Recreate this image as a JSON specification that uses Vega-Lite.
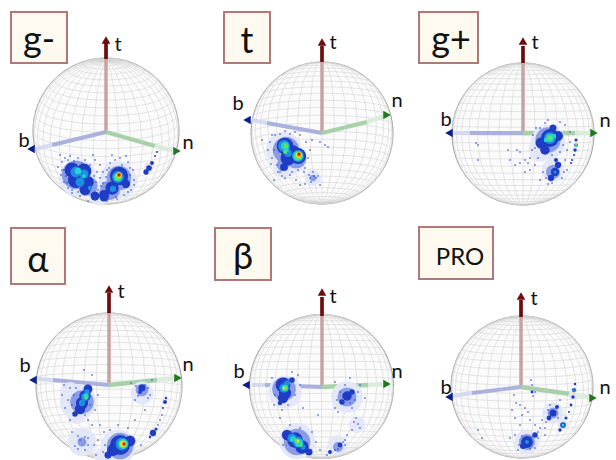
{
"$schema":"https://vega.github.io/schema/vega-lite/v6.json",
"width":616,"height":460,"padding":0,"autosize":{"type":"none"},"background":"white",
"config":{"view":{"stroke":null}},
"datasets":{
"boxes":[{"p":"g-","x":11,"x2":67,"y":12,"y2":63,"tx":39,"ty":41},{"p":"t","x":224,"x2":270,"y":12,"y2":63,"tx":247,"ty":42},{"p":"g+","x":419,"x2":478,"y":12,"y2":63,"tx":451,"ty":41},{"p":"α","x":11,"x2":65,"y":228,"y2":284,"tx":38,"ty":261},{"p":"β","x":215,"x2":271,"y":228,"y2":280,"tx":243,"ty":258},{"p":"PRO","x":419,"x2":493,"y":227,"y2":279,"tx":460,"ty":258}],
"labels":[{"t":"t","x":118,"y":45},{"t":"b","x":24,"y":141},{"t":"n","x":188,"y":143},{"t":"t","x":333,"y":43},{"t":"b","x":238,"y":104},{"t":"n","x":397,"y":101},{"t":"t","x":535,"y":43},{"t":"b","x":446,"y":120},{"t":"n","x":605,"y":121},{"t":"t","x":121,"y":292},{"t":"b","x":25,"y":366},{"t":"n","x":188,"y":365},{"t":"t","x":333,"y":297},{"t":"b","x":239,"y":372},{"t":"n","x":397,"y":372},{"t":"t","x":534,"y":299},{"t":"b","x":446,"y":388},{"t":"n","x":605,"y":388}],
"segs":[
{"k":"t_in","x":106,"y":132,"x2":106,"y2":59},{"k":"t_out","x":106,"y":59,"x2":106,"y2":43},{"k":"b_in","x":106,"y":132,"x2":52,"y2":145},{"k":"b_out","x":52,"y":145,"x2":36,"y2":149},{"k":"n_in","x":106,"y":132,"x2":155,"y2":146},{"k":"n_out","x":155,"y":146,"x2":175,"y2":151},
{"k":"t_in","x":322,"y":133,"x2":322,"y2":62},{"k":"t_out","x":322,"y":62,"x2":322,"y2":46},{"k":"b_in","x":322,"y":133,"x2":267,"y2":123},{"k":"b_out","x":267,"y":123,"x2":252,"y2":120},{"k":"n_in","x":322,"y":133,"x2":367,"y2":122},{"k":"n_out","x":367,"y":122,"x2":385,"y2":116},
{"k":"t_in","x":523,"y":133,"x2":523,"y2":63},{"k":"t_out","x":523,"y":63,"x2":523,"y2":46},{"k":"b_in","x":523,"y":133,"x2":470,"y2":133},{"k":"b_out","x":470,"y":133,"x2":452,"y2":133},{"k":"n_in","x":523,"y":133,"x2":575,"y2":133},{"k":"n_out","x":575,"y":133,"x2":592,"y2":133},
{"k":"t_in","x":109,"y":385,"x2":109,"y2":313},{"k":"t_out","x":109,"y":313,"x2":109,"y2":293},{"k":"b_in","x":109,"y":385,"x2":53,"y2":380},{"k":"b_out","x":53,"y":380,"x2":38,"y2":379},{"k":"n_in","x":109,"y":385,"x2":157,"y2":380},{"k":"n_out","x":157,"y":380,"x2":176,"y2":378},
{"k":"t_in","x":322,"y":387,"x2":322,"y2":316},{"k":"t_out","x":322,"y":316,"x2":322,"y2":297},{"k":"b_in","x":322,"y":387,"x2":265,"y2":385},{"k":"b_out","x":265,"y":385,"x2":252,"y2":385},{"k":"n_in","x":322,"y":387,"x2":368,"y2":385},{"k":"n_out","x":368,"y":385,"x2":385,"y2":384},
{"k":"t_in","x":521,"y":387,"x2":521,"y2":317},{"k":"t_out","x":521,"y":317,"x2":521,"y2":300},{"k":"b_in","x":521,"y":387,"x2":472,"y2":393},{"k":"b_out","x":472,"y":393,"x2":452,"y2":396},{"k":"n_in","x":521,"y":387,"x2":570,"y2":394},{"k":"n_out","x":570,"y":394,"x2":590,"y2":397}],
"tips":[{"a":"t","x":106,"y":40},{"a":"b","x":31,"y":149},{"a":"n","x":177,"y":151},{"a":"t","x":322,"y":42},{"a":"b","x":247,"y":120},{"a":"n","x":387,"y":115},{"a":"t","x":523,"y":41},{"a":"b","x":449,"y":133},{"a":"n","x":594,"y":133},{"a":"t","x":109,"y":289},{"a":"b","x":33,"y":380},{"a":"n","x":178,"y":378},{"a":"t","x":322,"y":292},{"a":"b","x":246,"y":385},{"a":"n","x":387,"y":384},{"a":"t","x":521,"y":296},{"a":"b","x":449,"y":397},{"a":"n","x":593,"y":398}],
"dens":[
{"x":78,"y":178,"d":-0.2,"w":700},{"x":118,"y":180,"d":-0.2,"w":700},{"x":100,"y":193,"d":-0.2,"w":300},{"x":149,"y":167,"d":-0.2,"w":50},
{"x":76,"y":175,"d":-0.1,"w":400},{"x":88,"y":186,"d":-0.1,"w":180},{"x":119,"y":178,"d":-0.1,"w":300},{"x":110,"y":190,"d":-0.1,"w":200},
{"x":72,"y":170,"d":0,"w":110},{"x":84,"y":171,"d":0,"w":110},{"x":76,"y":180,"d":0,"w":130},{"x":88,"y":182,"d":0,"w":70},{"x":85,"y":190,"d":0,"w":60},{"x":95,"y":196,"d":0,"w":40},{"x":104,"y":197,"d":0,"w":40},
{"x":76,"y":172,"d":0.25,"w":60},{"x":84,"y":174,"d":0.25,"w":40},{"x":80,"y":182,"d":0.25,"w":40},{"x":90,"y":188,"d":0.25,"w":10},{"x":78,"y":171,"d":0.4,"w":20},{"x":84,"y":176,"d":0.4,"w":7},
{"x":119,"y":176,"d":0,"w":170},{"x":112,"y":188,"d":0,"w":90},{"x":104,"y":195,"d":0,"w":50},{"x":126,"y":184,"d":0,"w":35},{"x":118,"y":177,"d":0.25,"w":70},{"x":113,"y":189,"d":0.25,"w":20},{"x":118,"y":177,"d":0.4,"w":38},{"x":118,"y":177,"d":0.55,"w":24},{"x":119,"y":175,"d":0.7,"w":14},{"x":119,"y":175,"d":0.85,"w":8},{"x":119,"y":175,"d":1,"w":4},
{"x":146,"y":172,"d":0,"w":14},{"x":149,"y":168,"d":0,"w":16},{"x":152,"y":163,"d":0,"w":8},{"x":155,"y":156,"d":0,"w":2},{"x":157,"y":152,"d":0,"w":2},
{"x":284,"y":150,"d":-0.2,"w":650},{"x":292,"y":160,"d":-0.2,"w":400},{"x":283,"y":168,"d":-0.2,"w":200},{"x":313,"y":178,"d":-0.2,"w":130},
{"x":286,"y":150,"d":-0.1,"w":350},{"x":296,"y":158,"d":-0.1,"w":220},{"x":283,"y":165,"d":-0.1,"w":80},{"x":313,"y":178,"d":-0.1,"w":20},
{"x":285,"y":146,"d":0,"w":140},{"x":298,"y":156,"d":0,"w":130},{"x":288,"y":158,"d":0,"w":110},{"x":284,"y":167,"d":0,"w":30},{"x":293,"y":152,"d":0,"w":90},
{"x":284,"y":146,"d":0.25,"w":70},{"x":298,"y":156,"d":0.25,"w":70},{"x":288,"y":153,"d":0.25,"w":30},{"x":285,"y":146,"d":0.4,"w":32},{"x":298,"y":156,"d":0.4,"w":48},{"x":286,"y":150,"d":0.4,"w":14},{"x":286,"y":146,"d":0.55,"w":10},{"x":298,"y":156,"d":0.55,"w":30},{"x":285,"y":152,"d":0.55,"w":7},{"x":299,"y":155,"d":0.7,"w":17},{"x":299,"y":155,"d":0.85,"w":8},{"x":299,"y":154,"d":1,"w":4},
{"x":548,"y":142,"d":-0.2,"w":600},{"x":553,"y":170,"d":-0.2,"w":260},{"x":540,"y":150,"d":-0.2,"w":260},
{"x":548,"y":140,"d":-0.1,"w":320},{"x":553,"y":172,"d":-0.1,"w":100},
{"x":550,"y":138,"d":0,"w":160},{"x":541,"y":143,"d":0,"w":60},{"x":545,"y":150,"d":0,"w":45},{"x":558,"y":136,"d":0,"w":50},{"x":553,"y":128,"d":0,"w":25},{"x":555,"y":172,"d":0,"w":35},{"x":551,"y":178,"d":0,"w":20},{"x":558,"y":165,"d":0,"w":20},{"x":556,"y":160,"d":0,"w":8},
{"x":550,"y":138,"d":0.25,"w":70},{"x":555,"y":172,"d":0.25,"w":5},{"x":550,"y":138,"d":0.4,"w":32},{"x":546,"y":140,"d":0.4,"w":10},{"x":554,"y":136,"d":0.4,"w":10},{"x":550,"y":138,"d":0.55,"w":12},
{"x":576,"y":140,"d":0,"w":5},{"x":576,"y":145,"d":0,"w":7},{"x":575,"y":150,"d":0,"w":6},{"x":574,"y":155,"d":0,"w":2},{"x":572,"y":160,"d":0,"w":2},{"x":571,"y":163,"d":0,"w":2},{"x":576,"y":146,"d":0.4,"w":3},{"x":576,"y":144,"d":0.7,"w":2},
{"x":78,"y":402,"d":-0.2,"w":650},{"x":70,"y":392,"d":-0.2,"w":200},{"x":77,"y":415,"d":-0.2,"w":160},{"x":118,"y":447,"d":-0.2,"w":600},{"x":100,"y":456,"d":-0.2,"w":70},{"x":142,"y":393,"d":-0.2,"w":260},{"x":82,"y":442,"d":-0.2,"w":400},
{"x":82,"y":402,"d":-0.1,"w":280},{"x":120,"y":446,"d":-0.1,"w":350},{"x":142,"y":390,"d":-0.1,"w":80},{"x":82,"y":442,"d":-0.1,"w":40},
{"x":88,"y":389,"d":0,"w":40},{"x":85,"y":396,"d":0,"w":65},{"x":82,"y":403,"d":0,"w":75},{"x":80,"y":409,"d":0,"w":55},{"x":75,"y":414,"d":0,"w":15},{"x":87,"y":392,"d":0.25,"w":14},{"x":85,"y":397,"d":0.25,"w":30},{"x":82,"y":403,"d":0.25,"w":20},{"x":86,"y":396,"d":0.4,"w":14},{"x":86,"y":398,"d":0.55,"w":5},
{"x":120,"y":445,"d":0,"w":200},{"x":130,"y":441,"d":0,"w":60},{"x":113,"y":450,"d":0,"w":70},{"x":108,"y":455,"d":0,"w":25},{"x":122,"y":444,"d":0.25,"w":85},{"x":123,"y":444,"d":0.4,"w":50},{"x":123,"y":444,"d":0.55,"w":30},{"x":123,"y":444,"d":0.7,"w":17},{"x":124,"y":444,"d":0.85,"w":8},{"x":124,"y":444,"d":1,"w":3},
{"x":142,"y":388,"d":0,"w":25},{"x":140,"y":392,"d":0,"w":8},{"x":165,"y":402,"d":0,"w":8},{"x":166,"y":398,"d":0,"w":3},{"x":163,"y":408,"d":0,"w":2},{"x":153,"y":433,"d":0,"w":20},{"x":156,"y":429,"d":0,"w":5},{"x":150,"y":437,"d":0,"w":3},
{"x":285,"y":392,"d":-0.2,"w":550},{"x":297,"y":441,"d":-0.2,"w":650},{"x":347,"y":397,"d":-0.2,"w":500},{"x":357,"y":425,"d":-0.2,"w":130},{"x":338,"y":445,"d":-0.2,"w":200},
{"x":284,"y":389,"d":-0.1,"w":280},{"x":297,"y":442,"d":-0.1,"w":350},{"x":347,"y":397,"d":-0.1,"w":180},{"x":338,"y":447,"d":-0.1,"w":50},
{"x":283,"y":385,"d":0,"w":110},{"x":285,"y":393,"d":0,"w":75},{"x":283,"y":398,"d":0,"w":55},{"x":292,"y":380,"d":0,"w":15},{"x":280,"y":403,"d":0,"w":10},{"x":284,"y":388,"d":0.25,"w":45},{"x":287,"y":383,"d":0.25,"w":16},{"x":285,"y":388,"d":0.4,"w":22},{"x":285,"y":388,"d":0.55,"w":10},{"x":284,"y":388,"d":0.7,"w":3},
{"x":287,"y":435,"d":0,"w":55},{"x":295,"y":440,"d":0,"w":120},{"x":302,"y":447,"d":0,"w":90},{"x":309,"y":452,"d":0,"w":25},{"x":292,"y":438,"d":0.25,"w":40},{"x":298,"y":442,"d":0.25,"w":60},{"x":303,"y":447,"d":0.25,"w":14},{"x":293,"y":439,"d":0.4,"w":16},{"x":299,"y":443,"d":0.4,"w":30},{"x":297,"y":441,"d":0.55,"w":13},{"x":301,"y":445,"d":0.55,"w":5},{"x":298,"y":441,"d":0.7,"w":3},
{"x":347,"y":396,"d":0,"w":45},{"x":342,"y":402,"d":0,"w":15},{"x":352,"y":392,"d":0,"w":15},{"x":340,"y":445,"d":0,"w":12},{"x":330,"y":452,"d":0,"w":8},
{"x":553,"y":413,"d":-0.2,"w":230},{"x":527,"y":442,"d":-0.2,"w":300},{"x":563,"y":425,"d":-0.2,"w":60},{"x":573,"y":395,"d":-0.2,"w":40},
{"x":553,"y":413,"d":-0.1,"w":60},{"x":527,"y":442,"d":-0.1,"w":130},
{"x":575,"y":384,"d":0,"w":3},{"x":574,"y":390,"d":0,"w":9},{"x":573,"y":397,"d":0,"w":6},{"x":571,"y":405,"d":0,"w":4},{"x":569,"y":412,"d":0,"w":2},{"x":574,"y":390,"d":0.25,"w":4},{"x":574,"y":393,"d":0.7,"w":2},
{"x":566,"y":418,"d":0,"w":5},{"x":563,"y":425,"d":0,"w":16},{"x":560,"y":430,"d":0,"w":6},{"x":563,"y":425,"d":0.4,"w":5},
{"x":557,"y":407,"d":0,"w":8},{"x":553,"y":413,"d":0,"w":25},{"x":549,"y":418,"d":0,"w":12},
{"x":527,"y":442,"d":0,"w":70},{"x":535,"y":435,"d":0,"w":15},{"x":523,"y":446,"d":0,"w":18},{"x":527,"y":442,"d":0.25,"w":8},{"x":532,"y":392,"d":0,"w":4}],
"dots":[
{"x":60,"y":155},{"x":62,"y":162},{"x":65,"y":158},{"x":58,"y":167},{"x":70,"y":156},{"x":78,"y":158},{"x":85,"y":160},{"x":90,"y":165},{"x":95,"y":160},{"x":100,"y":165},{"x":97,"y":172},{"x":100,"y":178},{"x":103,"y":172},{"x":96,"y":182},{"x":101,"y":186},{"x":64,"y":182},{"x":68,"y":188},{"x":72,"y":193},{"x":80,"y":196},{"x":88,"y":201},{"x":95,"y":200},{"x":107,"y":201},{"x":117,"y":199},{"x":124,"y":195},{"x":131,"y":190},{"x":134,"y":180},{"x":133,"y":170},{"x":128,"y":162},{"x":120,"y":158},{"x":110,"y":163},{"x":112,"y":155},{"x":126,"y":156},{"x":107,"y":170},{"x":93,"y":155},{"x":134,"y":185},{"x":61,"y":175},{"x":66,"y":176},{"x":116,"y":197},{"x":108,"y":199},{"x":92,"y":198},{"x":75,"y":187},{"x":68,"y":160},{"x":74,"y":161},{"x":82,"y":163},{"x":64,"y":170},{"x":62,"y":170},{"x":67,"y":183},{"x":72,"y":190},{"x":78,"y":192},{"x":94,"y":176},{"x":98,"y":190},{"x":103,"y":183},{"x":106,"y":177},{"x":109,"y":168},{"x":130,"y":175},{"x":130,"y":168},{"x":128,"y":192},{"x":122,"y":165},{"x":115,"y":160},{"x":100,"y":192},
{"x":275,"y":135},{"x":270,"y":142},{"x":268,"y":150},{"x":272,"y":158},{"x":277,"y":165},{"x":280,"y":172},{"x":285,"y":178},{"x":290,"y":175},{"x":298,"y":170},{"x":305,"y":168},{"x":309,"y":175},{"x":313,"y":172},{"x":316,"y":178},{"x":311,"y":182},{"x":318,"y":176},{"x":305,"y":184},{"x":300,"y":185},{"x":310,"y":150},{"x":325,"y":145},{"x":328,"y":147},{"x":320,"y":142},{"x":300,"y":135},{"x":295,"y":132},{"x":285,"y":131},{"x":312,"y":140},{"x":278,"y":172},{"x":296,"y":180},{"x":262,"y":140},{"x":274,"y":180},{"x":320,"y":185},{"x":272,"y":135},{"x":280,"y":134},{"x":290,"y":134},{"x":306,"y":142},{"x":308,"y":158},{"x":304,"y":172},{"x":314,"y":176},{"x":310,"y":178},{"x":292,"y":172},{"x":282,"y":176},{"x":274,"y":150},{"x":271,"y":164},
{"x":532,"y":150},{"x":530,"y":158},{"x":535,"y":165},{"x":528,"y":163},{"x":520,"y":163},{"x":515,"y":165},{"x":525,"y":172},{"x":530,"y":170},{"x":510,"y":160},{"x":478,"y":145},{"x":476,"y":143},{"x":478,"y":160},{"x":508,"y":150},{"x":565,"y":125},{"x":560,"y":122},{"x":548,"y":120},{"x":545,"y":123},{"x":570,"y":132},{"x":567,"y":150},{"x":567,"y":170},{"x":562,"y":178},{"x":548,"y":184},{"x":540,"y":180},{"x":543,"y":172},{"x":565,"y":160},{"x":536,"y":128},{"x":533,"y":135},{"x":570,"y":142},{"x":520,"y":152},{"x":517,"y":150},{"x":540,"y":128},{"x":563,"y":145},{"x":560,"y":152},{"x":552,"y":155},{"x":538,"y":158},{"x":535,"y":148},{"x":552,"y":183},{"x":546,"y":178},{"x":564,"y":172},{"x":525,"y":160},
{"x":84,"y":370},{"x":64,"y":385},{"x":62,"y":395},{"x":65,"y":408},{"x":70,"y":420},{"x":88,"y":420},{"x":95,"y":410},{"x":98,"y":395},{"x":92,"y":425},{"x":100,"y":425},{"x":72,"y":432},{"x":78,"y":436},{"x":88,"y":438},{"x":94,"y":445},{"x":75,"y":446},{"x":85,"y":450},{"x":98,"y":440},{"x":104,"y":432},{"x":110,"y":430},{"x":118,"y":425},{"x":128,"y":428},{"x":135,"y":420},{"x":145,"y":410},{"x":131,"y":383},{"x":152,"y":380},{"x":148,"y":398},{"x":135,"y":400},{"x":162,"y":415},{"x":160,"y":420},{"x":158,"y":425},{"x":141,"y":445},{"x":105,"y":445},{"x":92,"y":375},{"x":96,"y":455},{"x":108,"y":458},{"x":68,"y":400},{"x":72,"y":405},{"x":74,"y":395},{"x":76,"y":388},{"x":70,"y":388},{"x":90,"y":405},{"x":85,"y":415},{"x":80,"y":440},{"x":85,"y":437},{"x":88,"y":445},{"x":78,"y":449},{"x":145,"y":385},{"x":148,"y":388},{"x":138,"y":396},{"x":136,"y":386},{"x":150,"y":395},{"x":103,"y":452},
{"x":274,"y":405},{"x":272,"y":378},{"x":298,"y":375},{"x":300,"y":385},{"x":295,"y":395},{"x":282,"y":410},{"x":280,"y":418},{"x":290,"y":425},{"x":300,"y":428},{"x":312,"y":432},{"x":316,"y":442},{"x":320,"y":450},{"x":283,"y":445},{"x":335,"y":382},{"x":350,"y":378},{"x":360,"y":385},{"x":365,"y":398},{"x":335,"y":408},{"x":338,"y":412},{"x":352,"y":408},{"x":356,"y":418},{"x":360,"y":428},{"x":352,"y":430},{"x":345,"y":440},{"x":347,"y":435},{"x":327,"y":455},{"x":335,"y":450},{"x":345,"y":445},{"x":318,"y":415},{"x":303,"y":408},{"x":340,"y":392},{"x":337,"y":400},{"x":355,"y":400},{"x":358,"y":392},{"x":345,"y":385},{"x":350,"y":403},{"x":275,"y":395},{"x":292,"y":372},{"x":288,"y":405},{"x":354,"y":422},{"x":358,"y":424},{"x":343,"y":442},{"x":338,"y":449},
{"x":531,"y":380},{"x":532,"y":385},{"x":533,"y":396},{"x":535,"y":392},{"x":514,"y":395},{"x":516,"y":403},{"x":520,"y":405},{"x":525,"y":408},{"x":512,"y":410},{"x":522,"y":415},{"x":528,"y":412},{"x":515,"y":418},{"x":530,"y":420},{"x":520,"y":425},{"x":535,"y":425},{"x":540,"y":428},{"x":542,"y":420},{"x":545,"y":428},{"x":538,"y":438},{"x":545,"y":435},{"x":515,"y":435},{"x":518,"y":450},{"x":535,"y":448},{"x":478,"y":430},{"x":482,"y":438},{"x":510,"y":438},{"x":560,"y":400},{"x":548,"y":410},{"x":522,"y":436},{"x":532,"y":437},{"x":538,"y":432},{"x":519,"y":445},{"x":530,"y":449},{"x":550,"y":405},{"x":558,"y":418},{"x":546,"y":422}]
},
"layer":[
{"data":{"sphere":true},"mark":{"type":"geoshape","fill":"#fbfbfb","stroke":"#9a9a9a","strokeWidth":1},"projection":{"type":"orthographic","scale":73,"translate":[106,131],"rotate":[0,-14,0]}},
{"data":{"graticule":{"step":[10,6.5]}},"mark":{"type":"geoshape","filled":false,"stroke":"#d4d4d4","strokeWidth":0.6},"projection":{"type":"orthographic","scale":73,"translate":[106,131],"rotate":[0,-14,0]}},
{"data":{"sphere":true},"mark":{"type":"geoshape","fill":"#fbfbfb","stroke":"#9a9a9a","strokeWidth":1},"projection":{"type":"orthographic","scale":71,"translate":[322,133],"rotate":[0,8,0]}},
{"data":{"graticule":{"step":[10,6.5]}},"mark":{"type":"geoshape","filled":false,"stroke":"#d4d4d4","strokeWidth":0.6},"projection":{"type":"orthographic","scale":71,"translate":[322,133],"rotate":[0,8,0]}},
{"data":{"sphere":true},"mark":{"type":"geoshape","fill":"#fbfbfb","stroke":"#9a9a9a","strokeWidth":1},"projection":{"type":"orthographic","scale":71,"translate":[523,134],"rotate":[0,-1,0]}},
{"data":{"graticule":{"step":[10,6.5]}},"mark":{"type":"geoshape","filled":false,"stroke":"#d4d4d4","strokeWidth":0.6},"projection":{"type":"orthographic","scale":71,"translate":[523,134],"rotate":[0,-1,0]}},
{"data":{"sphere":true},"mark":{"type":"geoshape","fill":"#fbfbfb","stroke":"#9a9a9a","strokeWidth":1},"projection":{"type":"orthographic","scale":73,"translate":[109,386],"rotate":[0,4,0]}},
{"data":{"graticule":{"step":[10,6.5]}},"mark":{"type":"geoshape","filled":false,"stroke":"#d4d4d4","strokeWidth":0.6},"projection":{"type":"orthographic","scale":73,"translate":[109,386],"rotate":[0,4,0]}},
{"data":{"sphere":true},"mark":{"type":"geoshape","fill":"#fbfbfb","stroke":"#9a9a9a","strokeWidth":1},"projection":{"type":"orthographic","scale":72,"translate":[321.5,386.5],"rotate":[0,1,0]}},
{"data":{"graticule":{"step":[10,6.5]}},"mark":{"type":"geoshape","filled":false,"stroke":"#d4d4d4","strokeWidth":0.6},"projection":{"type":"orthographic","scale":72,"translate":[321.5,386.5],"rotate":[0,1,0]}},
{"data":{"sphere":true},"mark":{"type":"geoshape","fill":"#fbfbfb","stroke":"#9a9a9a","strokeWidth":1},"projection":{"type":"orthographic","scale":71,"translate":[522,387],"rotate":[0,-5,0]}},
{"data":{"graticule":{"step":[10,6.5]}},"mark":{"type":"geoshape","filled":false,"stroke":"#d4d4d4","strokeWidth":0.6},"projection":{"type":"orthographic","scale":71,"translate":[522,387],"rotate":[0,-5,0]}},
{"data":{"name":"segs"},"mark":{"type":"rule"},"encoding":{
"x":{"field":"x","type":"quantitative","scale":{"domain":[0,616],"nice":false,"zero":false},"axis":null},
"y":{"field":"y","type":"quantitative","scale":{"domain":[460,0],"nice":false,"zero":false},"axis":null},
"x2":{"field":"x2"},"y2":{"field":"y2"},
"color":{"field":"k","type":"nominal","legend":null,"scale":{"domain":["t_in","t_out","b_in","b_out","n_in","n_out"],"range":["#c7a3a3","#6e0b0b","#a9b1dc","#d6daef","#a9d1a9","#dcecdc"]}},
"strokeWidth":{"field":"k","type":"nominal","legend":null,"scale":{"domain":["t_in","t_out","b_in","b_out","n_in","n_out"],"range":[3.5,4.5,4,3,3.5,3]}}}},
{"data":{"name":"tips"},"mark":{"type":"point","filled":true,"opacity":1},"encoding":{
"x":{"field":"x","type":"quantitative","scale":{"domain":[0,616],"nice":false,"zero":false},"axis":null},
"y":{"field":"y","type":"quantitative","scale":{"domain":[460,0],"nice":false,"zero":false},"axis":null},
"shape":{"field":"a","type":"nominal","legend":null,"scale":{"domain":["t","b","n"],"range":["triangle-up","triangle-left","triangle-right"]}},
"color":{"field":"a","type":"nominal","legend":null,"scale":{"domain":["t","b","n"],"range":["#6e0b0b","#0b1f8c","#1f7a1f"]}},
"size":{"field":"a","type":"nominal","legend":null,"scale":{"domain":["t","b","n"],"range":[75,75,6]}}}},
{"data":{"name":"dens"},"mark":{"type":"circle","opacity":1},"encoding":{
"x":{"field":"x","type":"quantitative","scale":{"domain":[0,616],"nice":false,"zero":false},"axis":null},
"y":{"field":"y","type":"quantitative","scale":{"domain":[460,0],"nice":false,"zero":false},"axis":null},
"order":{"field":"d","type":"quantitative"},
"size":{"field":"w","type":"quantitative","legend":null,"scale":{"domain":[0,1000],"range":[0,2000]}},
"color":{"field":"d","type":"quantitative","legend":null,"scale":{"domain":[-0.2,-0.1,0,0.25,0.4,0.55,0.7,0.85,1],"range":["#e3e7f8","#8a9ce8","#1f3cc4","#1d8fe0","#25d4d0","#62e060","#f0e020","#f08010","#d01010"]}}}},
{"data":{"name":"dots"},"mark":{"type":"circle","size":4,"color":"#3a55cc","opacity":0.7},"encoding":{
"x":{"field":"x","type":"quantitative","scale":{"domain":[0,616],"nice":false,"zero":false},"axis":null},
"y":{"field":"y","type":"quantitative","scale":{"domain":[460,0],"nice":false,"zero":false},"axis":null}}},
{"data":{"name":"boxes"},"mark":{"type":"rect","fill":"#fffaf0","stroke":"#b27878","strokeWidth":2},"encoding":{
"x":{"field":"x","type":"quantitative","scale":{"domain":[0,616],"nice":false,"zero":false},"axis":null},
"y":{"field":"y","type":"quantitative","scale":{"domain":[460,0],"nice":false,"zero":false},"axis":null},
"x2":{"field":"x2"},"y2":{"field":"y2"}}},
{"data":{"name":"boxes"},"transform":[{"filter":"datum.p != 'PRO'"}],"mark":{"type":"text","font":"Lato","fontSize":36,"color":"#111","align":"center","baseline":"middle"},"encoding":{
"x":{"field":"tx","type":"quantitative","scale":{"domain":[0,616],"nice":false,"zero":false},"axis":null},
"y":{"field":"ty","type":"quantitative","scale":{"domain":[460,0],"nice":false,"zero":false},"axis":null},
"text":{"field":"p"}}},
{"data":{"name":"boxes"},"transform":[{"filter":"datum.p == 'PRO'"}],"mark":{"type":"text","font":"Lato","fontSize":24,"color":"#111","align":"center","baseline":"middle"},"encoding":{
"x":{"field":"tx","type":"quantitative","scale":{"domain":[0,616],"nice":false,"zero":false},"axis":null},
"y":{"field":"ty","type":"quantitative","scale":{"domain":[460,0],"nice":false,"zero":false},"axis":null},
"text":{"field":"p"}}},
{"data":{"name":"labels"},"mark":{"type":"text","font":"Lato","fontSize":20,"color":"#111","align":"center","baseline":"middle"},"encoding":{
"x":{"field":"x","type":"quantitative","scale":{"domain":[0,616],"nice":false,"zero":false},"axis":null},
"y":{"field":"y","type":"quantitative","scale":{"domain":[460,0],"nice":false,"zero":false},"axis":null},
"text":{"field":"t"}}}
]
}
